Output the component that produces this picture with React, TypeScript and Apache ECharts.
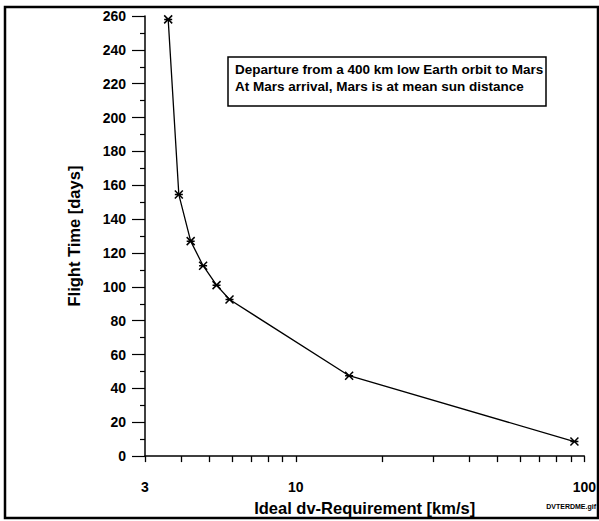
import React, { useEffect, useRef } from "react";
import * as echarts from "echarts";

const dvRequirement = [3.61, 3.93, 4.32, 4.77, 5.31, 5.89, 15.3, 92.4];
const flightDays = [258, 154.5, 127, 112.5, 101, 92.5, 47.5, 8.6];
const xMajorTicks = [3, 10, 100];
const xMinorTicks = [4, 5, 6, 7, 8, 9, 20, 30, 40, 50, 60, 70, 80, 90];
const noteLines = [
  "Departure from a 400 km low Earth orbit to Mars",
  "At Mars arrival, Mars is at mean sun distance",
];
const xTitle = "Ideal dv-Requirement [km/s]";
const yTitle = "Flight Time [days]";
const fileTag = "DVTERDME.gif";

const FONT = "'Liberation Sans', Arial, Helvetica, sans-serif";

export default function App() {
  const ref = useRef<HTMLDivElement>(null);
  useEffect(() => {
    if (!ref.current) return;
    const chart = echarts.init(ref.current, null, { renderer: "svg" });
    const allTicks = [...xMajorTicks, ...xMinorTicks].sort((a, b) => a - b);
    chart.setOption({
      animation: false,
      textStyle: { fontFamily: FONT },
      grid: { left: 145, top: 16, right: 12, bottom: 62, containLabel: false },
      xAxis: {
        type: "log",
        min: 3,
        max: 100,
        name: xTitle,
        nameLocation: "middle",
        nameGap: 40,
        nameTextStyle: { fontSize: 16.5, fontWeight: "bold", color: "#000", fontFamily: FONT },
        axisLine: { show: true, lineStyle: { color: "#000", width: 1.5 } },
        axisTick: {
          show: true,
          inside: false,
          length: 6,
          customValues: allTicks,
          lineStyle: { color: "#000", width: 1.3 },
        },
        splitLine: { show: false },
        axisLabel: {
          color: "#000",
          fontSize: 14,
          fontWeight: "bold",
          margin: 24,
          customValues: xMajorTicks,
          formatter: (v: number) => String(Math.round(v)),
        },
      },
      yAxis: {
        type: "value",
        min: 0,
        max: 260,
        interval: 20,
        name: yTitle,
        nameLocation: "middle",
        nameGap: 63,
        nameTextStyle: { fontSize: 16.5, fontWeight: "bold", color: "#000", fontFamily: FONT },
        axisLine: { show: true, lineStyle: { color: "#000", width: 1.5 } },
        axisTick: { show: true, inside: false, length: 13, lineStyle: { color: "#000", width: 1.2 } },
        minorTick: { show: true, splitNumber: 2, length: 5, lineStyle: { color: "#000", width: 1.2 } },
        splitLine: { show: false },
        axisLabel: { color: "#000", fontSize: 14, fontWeight: "bold", margin: 19 },
      },
      series: [
        {
          type: "line",
          data: dvRequirement.map((x, i) => [x, flightDays[i]]),
          lineStyle: { color: "#000", width: 1.3 },
          symbol: "path://M0,0L10,10M10,0L0,10M0,5L10,5",
          symbolSize: 8,
          itemStyle: { color: "none", borderColor: "#000", borderWidth: 1.5 },
          showSymbol: true,
        },
      ],
      graphic: [
        {
          type: "rect",
          shape: { x: 5, y: 7, width: 593, height: 511 },
          style: { fill: "none", stroke: "#000", lineWidth: 2.5 },
        },
        {
          type: "rect",
          shape: { x: 228, y: 57, width: 318, height: 49 },
          style: { fill: "#fff", stroke: "#000", lineWidth: 1.5 },
        },
        {
          type: "text",
          x: 235,
          y: 61,
          style: {
            text: noteLines.join("\n"),
            font: `bold 13.5px ${FONT}`,
            fill: "#000",
            lineHeight: 17,
          },
        },
        {
          type: "text",
          x: 596,
          y: 503,
          style: {
            text: fileTag,
            font: `bold 7px ${FONT}`,
            fill: "#000",
            align: "right",
          },
        },
      ],
    });
    return () => chart.dispose();
  }, []);
  return (
    <div
      ref={ref}
      style={{ position: "fixed", left: 0, top: 0, width: 599, height: 521, background: "#fff" }}
    />
  );
}
